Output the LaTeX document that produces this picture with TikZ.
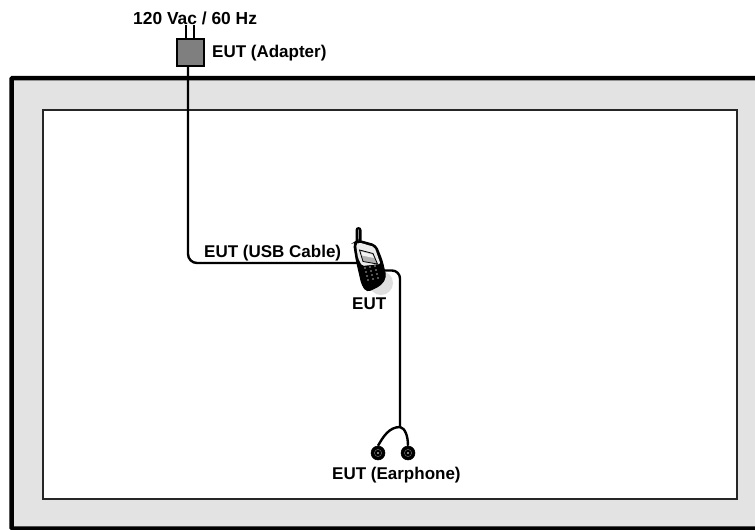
\documentclass[tikz,border=0pt]{standalone}
\usepackage{fontspec}
\setmainfont{Liberation Sans}
\definecolor{framegray}{HTML}{E3E3E3}
\definecolor{adaptgray}{HTML}{7F7F7F}
\tikzset{
  lbl/.style={font=\bfseries\fontsize{17}{19}\selectfont,text=black,inner sep=0pt,anchor=base west},
  wire/.style={line width=2.4pt,black,line join=round},
  plug/.style={circle,fill=black,draw=black,line width=.5pt,minimum size=14pt,inner sep=0pt},
}
\begin{document}
\begin{tikzpicture}[x=1pt,y=-1pt]
\useasboundingbox (0,0) rectangle (755,530);
% frame
\path[fill=framegray] (11,78) rectangle (755,528);
\draw[black,line width=4.5pt] (755,78) -- (14,78) [rounded corners=1pt] -- (11.5,78) -- (11.5,528.5) -- (755,528.5);
\node[draw=black!85,line width=1.6pt,fill=white,minimum width=694pt,minimum height=389pt,inner sep=0pt,anchor=north west] (room) at (42,109) {};
% adapter
\node[draw=black,line width=2pt,fill=adaptgray,minimum width=27pt,minimum height=27pt,inner sep=0pt] (adapter) at (190,52) {};
\coordinate (p1) at (186,25); \coordinate (p2) at (194,25);
\draw[line width=1.6pt] (p1) -- (p1 |- adapter.north);
\draw[line width=1.6pt] (p2) -- (p2 |- adapter.north);
% wires
\node[inner sep=0pt,minimum size=1pt] (phoneL) at (358,263) {};
\node[inner sep=0pt,minimum size=1pt] (phoneR) at (384,270.5) {};
\node[plug] (e1) at (378,453) {};
\node[plug] (e2) at (408,453) {};
\coordinate (fork) at (400,427);
\draw[wire,rounded corners=9pt] ([xshift=-2pt]adapter.south) -- ([xshift=-2pt]adapter.south |- phoneL) -- (phoneL);
\draw[wire,rounded corners=8pt] (phoneR) -- (400,270.5) -- (fork);
\draw[wire] (fork) .. controls (389,427) and (383,437) .. (e1.north);
\draw[wire] (fork) .. controls (405,428) and (408,436) .. (e2.north);
\foreach \e in {e1,e2}{
  \draw[black!60,line width=.5pt] (\e) circle (3.6);
  \fill[white] (\e) circle (.8);
}
% phone
\coordinate (phone) at (369,264);
\fill[black!13] (381,283) circle (12);
\fill[black] (355.5,244) -- (355.5,230) arc[start angle=180,end angle=360,radius=3] -- (361.5,244) -- cycle;
\draw[black!45,line width=1.2pt,line cap=round] (358.5,230) -- (358.5,241);
\path[fill=black,draw=black,line width=1pt,rounded corners=4pt] (353.5,243) -- (358,240) -- (376,245) -- (382,260) -- (386,277) -- (381,285) -- (367,292) -- (362,285) -- (356,259) -- cycle;
\path[fill=black!8,rounded corners=2pt] (356,244) -- (359,242.5) -- (374.5,247) -- (380.5,264) -- (362,266) -- (358,258) -- cycle;
\path[fill=black!30,draw=black,line width=.8pt] (359.5,250) -- (373,253.5) -- (377.5,264) -- (363,261.5) -- cycle;
\path[fill=black!5] (361,251.5) -- (372.3,254.5) -- (374,258) -- (362,255.5) -- cycle;
\foreach \a/\b in {365/268,370/267,375/266,366/272,371/271,376/270,367/276,372/275,377/274,368/280,373/279,378/278}
  \fill[black!55] (\a,\b) circle (1.2);
% labels
\node[lbl,font=\bfseries\fontsize{17.4}{19}\selectfont] (tPower) at (133,24) {120 Vac / 60 Hz};
\node[lbl] (tAdapter) at (212,57) {EUT (Adapter)};
\node[lbl] (tUsb) at (204,257) {EUT (USB Cable)};
\node[lbl] (tEut) at (352,309) {EUT};
\node[lbl] (tEar) at (332,479) {EUT (Earphone)};
\end{tikzpicture}
\end{document}
